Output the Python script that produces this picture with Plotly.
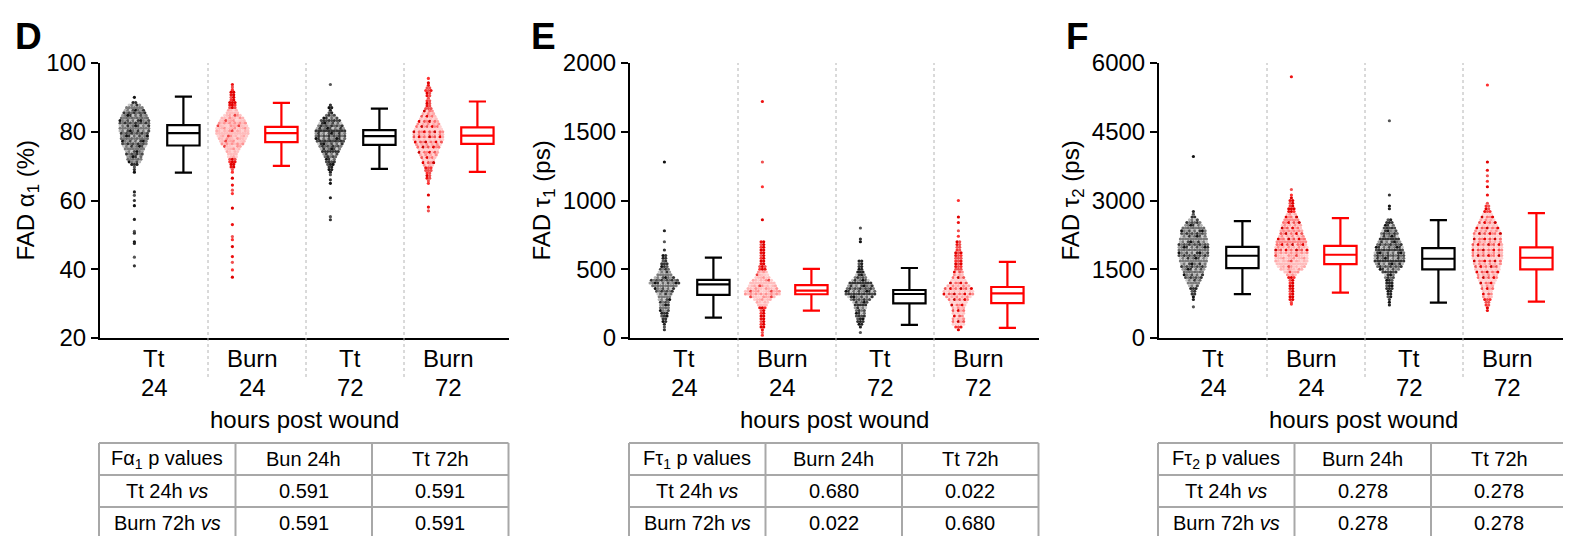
import plotly.graph_objects as go

W, H = 1571, 536
OFF = 8  # page body margin of the browser
FONT = "Arial, Liberation Sans, sans-serif"

CATS = [["Tt", "24"], ["Burn", "24"], ["Tt", "72"], ["Burn", "72"]]
X_TITLE = "hours post wound"
Y_TITLES = ["FAD α<sub>1</sub> (%)", "FAD τ<sub>1</sub> (ps)", "FAD τ<sub>2</sub> (ps)"]
PANEL_LETTERS = ["D", "E", "F"]
Y_RANGES = [[20, 100], [0, 2000], [0, 6000]]
Y_DTICK = [20, 500, 1500]

# ---- swarm data: (value, number of points at that value) ----
D_TT24 = [(90, 1), (88.5, 2), (87.75, 5), (87, 7), (86.25, 8), (85.5, 9), (84.75, 10), (84, 11),
          (83.25, 12), (82.5, 12), (81.75, 12), (81, 12), (80.25, 12), (79.5, 11), (78.75, 11),
          (78, 11), (77.25, 10), (76.5, 10), (75.75, 9), (75, 8), (74.25, 7), (73.5, 7), (72.75, 6),
          (72, 6), (71.25, 5), (70.5, 3), (69.75, 1), (69, 1), (68.25, 1), (62.5, 1), (61.5, 1),
          (60, 1), (58.5, 1), (54.5, 1), (51, 1), (50.5, 1), (48, 1), (47.5, 1), (43.5, 1), (41, 1)]
D_BURN24 = [(93.75, 1), (93, 1), (92.25, 1), (91.5, 2), (90.75, 2), (90, 2), (89.25, 2), (88.5, 3),
            (87.75, 3), (87, 3), (86.25, 4), (85.5, 5), (84.75, 7), (84, 9), (83.25, 10), (82.5, 11),
            (81.75, 12), (81, 13), (80.25, 13), (79.5, 13), (78.75, 12), (78, 11), (77.25, 10),
            (76.5, 9), (75.75, 7), (75, 6), (74.25, 5), (73.5, 4), (72.75, 4), (72, 3), (71.25, 3),
            (70.5, 2), (69.75, 2), (69, 1), (68.25, 1), (66.5, 1), (64.5, 1), (63, 1), (62, 1),
            (57.8, 1), (53, 1), (49.5, 1), (48.6, 1), (46.6, 1), (43.7, 1), (42, 1), (39.8, 1), (37.7, 1)]
D_TT72 = [(93.75, 1), (87.75, 1), (87, 2), (86.25, 1), (85.5, 2), (84.75, 4), (84, 6), (83.25, 8),
          (82.5, 9), (81.75, 10), (81, 11), (80.25, 12), (79.5, 12), (78.75, 12), (78, 12), (77.25, 11),
          (76.5, 10), (75.75, 9), (75, 8), (74.25, 7), (73.5, 6), (72.75, 5), (72, 4), (71.25, 4),
          (70.5, 3), (69.75, 2), (69, 2), (68.25, 1), (67.5, 1), (66, 1), (65, 1), (60.8, 1),
          (55.3, 1), (54.4, 1)]
D_BURN72 = [(95.5, 1), (94.25, 1), (93.5, 1), (92.75, 2), (92, 3), (91.25, 2), (90.5, 2), (89.75, 1),
            (89, 2), (88.25, 2), (87.5, 2), (86.75, 3), (86, 4), (85.25, 5), (84.5, 6), (83.75, 7),
            (83, 8), (82.25, 9), (81.5, 10), (80.75, 11), (80, 12), (79.25, 12), (78.5, 12),
            (77.75, 12), (77, 11), (76.25, 10), (75.5, 9), (74.75, 8), (74, 8), (73.25, 7), (72.5, 6),
            (71.75, 5), (71, 5), (70.25, 4), (69.5, 3), (68.75, 3), (68, 2), (67.25, 2), (66.5, 2),
            (65.75, 1), (65, 1), (61.6, 1), (58.1, 1), (57, 1)]

E_TT24 = [(1280, 1), (780, 1), (700, 1), (640, 1), (600, 2), (580, 2), (560, 2), (540, 3), (520, 3),
          (500, 4), (480, 5), (460, 6), (440, 8), (420, 11), (400, 12), (380, 10), (360, 8), (340, 7),
          (320, 6), (300, 5), (280, 5), (260, 4), (240, 4), (220, 4), (200, 4), (180, 3), (160, 3),
          (140, 2), (120, 2), (100, 1), (80, 1), (60, 1)]
E_BURN24 = [(1720, 1), (1280, 1), (1100, 1), (860, 1), (700, 2), (680, 2), (660, 2), (640, 2), (620, 2),
            (600, 2), (580, 2), (560, 2), (540, 2), (520, 3), (500, 3), (480, 4), (460, 5), (440, 6),
            (420, 8), (400, 10), (380, 11), (360, 12), (340, 14), (320, 14), (300, 10), (280, 7),
            (260, 5), (240, 4), (220, 3), (200, 2), (180, 2), (160, 2), (140, 2), (120, 2), (100, 2),
            (80, 2), (60, 1), (40, 1), (20, 1)]
E_TT72 = [(800, 1), (720, 1), (700, 1), (560, 2), (540, 2), (520, 2), (500, 2), (480, 3), (460, 4),
          (440, 5), (420, 7), (400, 9), (380, 10), (360, 11), (340, 12), (320, 12), (300, 10), (280, 8),
          (260, 6), (240, 5), (220, 5), (200, 4), (180, 4), (160, 4), (140, 3), (120, 3), (100, 2),
          (80, 1), (40, 1)]
E_BURN72 = [(1000, 1), (880, 1), (840, 1), (780, 1), (740, 1), (700, 2), (680, 2), (660, 2), (640, 2),
            (620, 3), (600, 3), (580, 3), (560, 3), (540, 3), (520, 3), (500, 3), (480, 4), (460, 4),
            (440, 5), (420, 6), (400, 7), (380, 9), (360, 11), (340, 12), (320, 12), (300, 10), (280, 8),
            (260, 7), (240, 6), (220, 5), (200, 5), (180, 5), (160, 4), (140, 5), (120, 5), (100, 5),
            (80, 3), (60, 1)]

F_TT24 = [(3960, 1), (2760, 1), (2700, 1), (2640, 2), (2580, 4), (2520, 6), (2460, 7), (2400, 9),
          (2340, 10), (2280, 10), (2220, 10), (2160, 11), (2100, 11), (2040, 12), (1980, 12), (1920, 12),
          (1860, 12), (1800, 12), (1740, 11), (1680, 11), (1620, 10), (1560, 10), (1500, 9), (1440, 8),
          (1380, 8), (1320, 7), (1260, 6), (1200, 5), (1140, 4), (1080, 3), (1020, 2), (960, 2),
          (900, 1), (840, 1), (680, 1)]
F_BURN24 = [(5700, 1), (3240, 1), (3120, 1), (3060, 1), (3000, 2), (2940, 2), (2880, 2), (2820, 3),
            (2760, 3), (2700, 4), (2640, 5), (2580, 6), (2520, 7), (2460, 8), (2400, 8), (2340, 9),
            (2280, 9), (2220, 10), (2160, 11), (2100, 12), (2040, 12), (1980, 13), (1920, 13), (1860, 13),
            (1800, 13), (1740, 13), (1680, 13), (1620, 12), (1560, 11), (1500, 9), (1440, 6), (1380, 4),
            (1320, 3), (1260, 2), (1200, 2), (1140, 2), (1080, 2), (1020, 2), (960, 2), (900, 2),
            (840, 2), (780, 1), (740, 1)]
F_TT72 = [(4740, 1), (3120, 1), (2880, 1), (2820, 1), (2580, 2), (2520, 3), (2460, 4), (2400, 5),
          (2340, 6), (2280, 7), (2220, 7), (2160, 8), (2100, 9), (2040, 10), (1980, 11), (1920, 11),
          (1860, 12), (1800, 12), (1740, 12), (1680, 12), (1620, 11), (1560, 10), (1500, 8), (1440, 6),
          (1380, 4), (1320, 4), (1260, 3), (1200, 3), (1140, 3), (1080, 3), (1020, 2), (960, 2),
          (900, 2), (840, 1), (780, 1), (720, 1)]
F_BURN72 = [(5520, 1), (3840, 1), (3660, 1), (3540, 1), (3420, 1), (3300, 1), (3120, 1), (2940, 1),
            (2880, 2), (2820, 2), (2760, 3), (2700, 4), (2640, 5), (2580, 6), (2520, 7), (2460, 8),
            (2400, 9), (2340, 10), (2280, 11), (2220, 11), (2160, 11), (2100, 11), (2040, 12), (1980, 12),
            (1920, 12), (1860, 12), (1800, 12), (1740, 12), (1680, 11), (1620, 11), (1560, 10), (1500, 10),
            (1440, 9), (1380, 8), (1320, 8), (1260, 7), (1200, 6), (1140, 5), (1080, 5), (1020, 4),
            (960, 4), (900, 4), (840, 3), (780, 2), (720, 2), (660, 1), (600, 1)]

# ---- box statistics per group (Tt24, Burn24, Tt72, Burn72) ----
D_LO = [68.1, 70.1, 69.2, 68.3]
D_Q1 = [76.0, 77.0, 76.2, 76.5]
D_MED = [79.6, 79.6, 78.7, 78.9]
D_Q3 = [81.9, 81.4, 80.5, 81.3]
D_HI = [90.2, 88.4, 86.7, 88.8]

E_LO = [148, 199, 95, 73]
E_Q1 = [313, 318, 252, 254]
E_MED = [390, 344, 320, 325]
E_Q3 = [422, 385, 349, 371]
E_HI = [584, 502, 509, 553]

F_LO = [959, 988, 770, 792]
F_Q1 = [1526, 1613, 1497, 1497]
F_MED = [1794, 1816, 1729, 1751]
F_Q3 = [1990, 2012, 1962, 1977]
F_HI = [2551, 2616, 2572, 2725]

# ---- p-value tables ----
D_TABLE_HEAD = ["Fα<sub>1</sub> p values", "Bun 24h", "Tt 72h"]
D_TABLE_ROWS = [["Tt 24h <i>vs</i>", "0.591", "0.591"], ["Burn 72h <i>vs</i>", "0.591", "0.591"]]
E_TABLE_HEAD = ["Fτ<sub>1</sub> p values", "Burn 24h", "Tt 72h"]
E_TABLE_ROWS = [["Tt 24h <i>vs</i>", "0.680", "0.022"], ["Burn 72h <i>vs</i>", "0.022", "0.680"]]
F_TABLE_HEAD = ["Fτ<sub>2</sub> p values", "Burn 24h", "Tt 72h"]
F_TABLE_ROWS = [["Tt 24h <i>vs</i>", "0.278", "0.278"], ["Burn 72h <i>vs</i>", "0.278", "0.278"]]

# ---- styling ----
PAL_TT = ["#111111", "#6a6a6a", "#9a9a9a", "#333333", "#b4b4b4", "#7a7a7a", "#c8c8c8", "#4a4a4a"]
PAL_TT_STRONG = ["#111111", "#333333", "#555555", "#222222"]
PAL_B24 = ["#ffbcbc", "#ffa8a8", "#ffcccc", "#f04040", "#ff9292", "#ffc4c4", "#ffb4b4", "#ffd2d2"]
PAL_B72 = ["#ff8c8c", "#e60000", "#ffc0c0", "#f25555", "#ffaaaa", "#cc0000", "#ffd0d0", "#ff6f6f"]
PAL_B_STRONG = ["#e00000", "#ff3030", "#f05050", "#ee1010"]
GROUP_PAL = [PAL_TT, PAL_B24, PAL_TT, PAL_B72]
GROUP_STRONG = [PAL_TT_STRONG, PAL_B_STRONG, PAL_TT_STRONG, PAL_B_STRONG]
# above this value the Burn 24 swarm of each panel is drawn in the redder palette
B24_RED_ABOVE = [None, 480, 1880]
BOX_COL = ["black", "red", "black", "red"]

AX_LEFT_PX = [100, 630, 1159]
YTITLE_OFF_PX = [73, 87, 87]
AX_W_PX = 409
Y_TOP_PX, Y_BOT_PX = 63, 338
CAT_LINE_PX = [358, 387]
CAT_PX = 98.0
LABEL_OFF_PX = 54.0
X_RANGE = [-LABEL_OFF_PX / CAT_PX, (AX_W_PX - LABEL_OFF_PX) / CAT_PX]
SWARM_OFF = -0.2
BOX_OFF = 0.3
DOT_DX = 2.6 / CAT_PX


def fx(px):
    return (px - OFF) / W


def fy(py):
    return 1 - (py - OFF) / H


fig = go.Figure()

panels = [
    ([D_TT24, D_BURN24, D_TT72, D_BURN72], (D_LO, D_Q1, D_MED, D_Q3, D_HI), D_TABLE_HEAD, D_TABLE_ROWS),
    ([E_TT24, E_BURN24, E_TT72, E_BURN72], (E_LO, E_Q1, E_MED, E_Q3, E_HI), E_TABLE_HEAD, E_TABLE_ROWS),
    ([F_TT24, F_BURN24, F_TT72, F_BURN72], (F_LO, F_Q1, F_MED, F_Q3, F_HI), F_TABLE_HEAD, F_TABLE_ROWS),
]

shapes = []
annotations = []
layout_axes = {}

for p, (swarms, stats, thead, trows) in enumerate(panels):
    sfx = "" if p == 0 else str(p + 1)
    xa, ya = "x" + sfx, "y" + sfx
    lo, q1, med, q3, hi = stats
    for g, hist in enumerate(swarms):
        xs, ys, cs = [], [], []
        for r, (val, n) in enumerate(hist):
            if n <= 3:
                pal = GROUP_STRONG[g]
            elif g == 1 and B24_RED_ABOVE[p] is not None and val > B24_RED_ABOVE[p]:
                pal = PAL_B72
            else:
                pal = GROUP_PAL[g]
            for j in range(n):
                xs.append(g + SWARM_OFF + (j - (n - 1) / 2) * DOT_DX)
                ys.append(val)
                cs.append(pal[(r * 7 + j * 13 + r * j + g * 3) % len(pal)])
        fig.add_trace(go.Scatter(x=xs, y=ys, mode="markers", xaxis=xa, yaxis=ya,
                                 marker=dict(size=3.2, color=cs, line=dict(width=0)),
                                 hoverinfo="skip", showlegend=False))
        fig.add_trace(go.Box(x=[g + BOX_OFF], q1=[q1[g]], median=[med[g]], q3=[q3[g]],
                             lowerfence=[lo[g]], upperfence=[hi[g]], width=0.33, whiskerwidth=0.53,
                             line=dict(color=BOX_COL[g], width=2.2), fillcolor="white",
                             boxpoints=False, xaxis=xa, yaxis=ya, showlegend=False))

    left = AX_LEFT_PX[p]
    layout_axes["xaxis" + sfx] = dict(
        domain=[fx(left), fx(left + AX_W_PX)], range=X_RANGE, anchor=ya,
        showline=True, linewidth=2, linecolor="black", ticks="", showgrid=False, zeroline=False,
        tickvals=[0, 1, 2, 3], showticklabels=False, automargin=False, fixedrange=True)
    layout_axes["yaxis" + sfx] = dict(
        domain=[fy(Y_BOT_PX), fy(Y_TOP_PX)], range=Y_RANGES[p], anchor=xa, dtick=Y_DTICK[p],
        showline=True, linewidth=2, linecolor="black", ticks="outside", ticklen=7, tickwidth=2,
        tickcolor="black", showgrid=False, zeroline=False,
        tickfont=dict(size=24, color="black", family=FONT), automargin=False, fixedrange=True)

    # category labels (two lines) under each group
    for k, lines in enumerate(CATS):
        for li, txt in enumerate(lines):
            annotations.append(dict(text=txt, x=k, y=fy(CAT_LINE_PX[li]), xref=xa, yref="paper",
                                    showarrow=False, font=dict(size=24, color="black", family=FONT),
                                    xanchor="center", yanchor="middle"))

    # dotted dividers between groups
    for k in range(3):
        shapes.append(dict(type="line", xref=xa, yref="paper", x0=k - X_RANGE[0], x1=k - X_RANGE[0],
                           y0=fy(377), y1=fy(Y_TOP_PX), line=dict(color="#b4b4b4", width=1, dash="dot")))

    # titles
    annotations.append(dict(text=Y_TITLES[p], x=fx(left - YTITLE_OFF_PX[p]), y=fy((Y_TOP_PX + Y_BOT_PX) / 2),
                            xref="paper", yref="paper", textangle=-90, showarrow=False,
                            font=dict(size=24, color="black", family=FONT), xanchor="center", yanchor="middle"))
    annotations.append(dict(text=X_TITLE, x=fx(left + AX_W_PX / 2), y=fy(419), xref="paper", yref="paper",
                            showarrow=False, font=dict(size=24, color="black", family=FONT),
                            xanchor="center", yanchor="middle"))
    annotations.append(dict(text="<b>" + PANEL_LETTERS[p] + "</b>", x=fx([13, 529, 1064][p]), y=fy(36),
                            xref="paper", yref="paper", showarrow=False,
                            font=dict(size=37, color="black", family=FONT), xanchor="left", yanchor="middle"))

    # p-value table
    tl = left - 1
    cw = 136.5
    col_edges = [tl, tl + cw, tl + 2 * cw, min(tl + 3 * cw, W + OFF - 1)]
    row_edges = [443, 475, 507, 539]
    for ry in row_edges:
        shapes.append(dict(type="line", xref="paper", yref="paper", x0=fx(col_edges[0]), x1=fx(col_edges[-1]),
                           y0=fy(ry), y1=fy(ry), line=dict(color="#a8a8a8", width=2)))
    for cx in col_edges:
        shapes.append(dict(type="line", xref="paper", yref="paper", x0=fx(cx), x1=fx(cx),
                           y0=fy(row_edges[0]), y1=fy(row_edges[-1]), line=dict(color="#a8a8a8", width=2)))
    rows = [thead] + trows
    for ri, row in enumerate(rows):
        cy = (row_edges[ri] + row_edges[ri + 1]) / 2
        for ci, txt in enumerate(row):
            cx = (tl + ci * cw) + cw / 2
            annotations.append(dict(text=txt, x=fx(cx), y=fy(cy), xref="paper", yref="paper",
                                    showarrow=False, font=dict(size=20, color="black", family=FONT),
                                    xanchor="center", yanchor="middle"))

fig.update_layout(
    width=W, height=H, margin=dict(l=0, r=0, t=0, b=0, pad=0),
    paper_bgcolor="white", plot_bgcolor="white", showlegend=False,
    font=dict(family=FONT, color="black"), shapes=shapes, annotations=annotations,
    boxmode="overlay", **layout_axes)

fig.write_html("out.html")
